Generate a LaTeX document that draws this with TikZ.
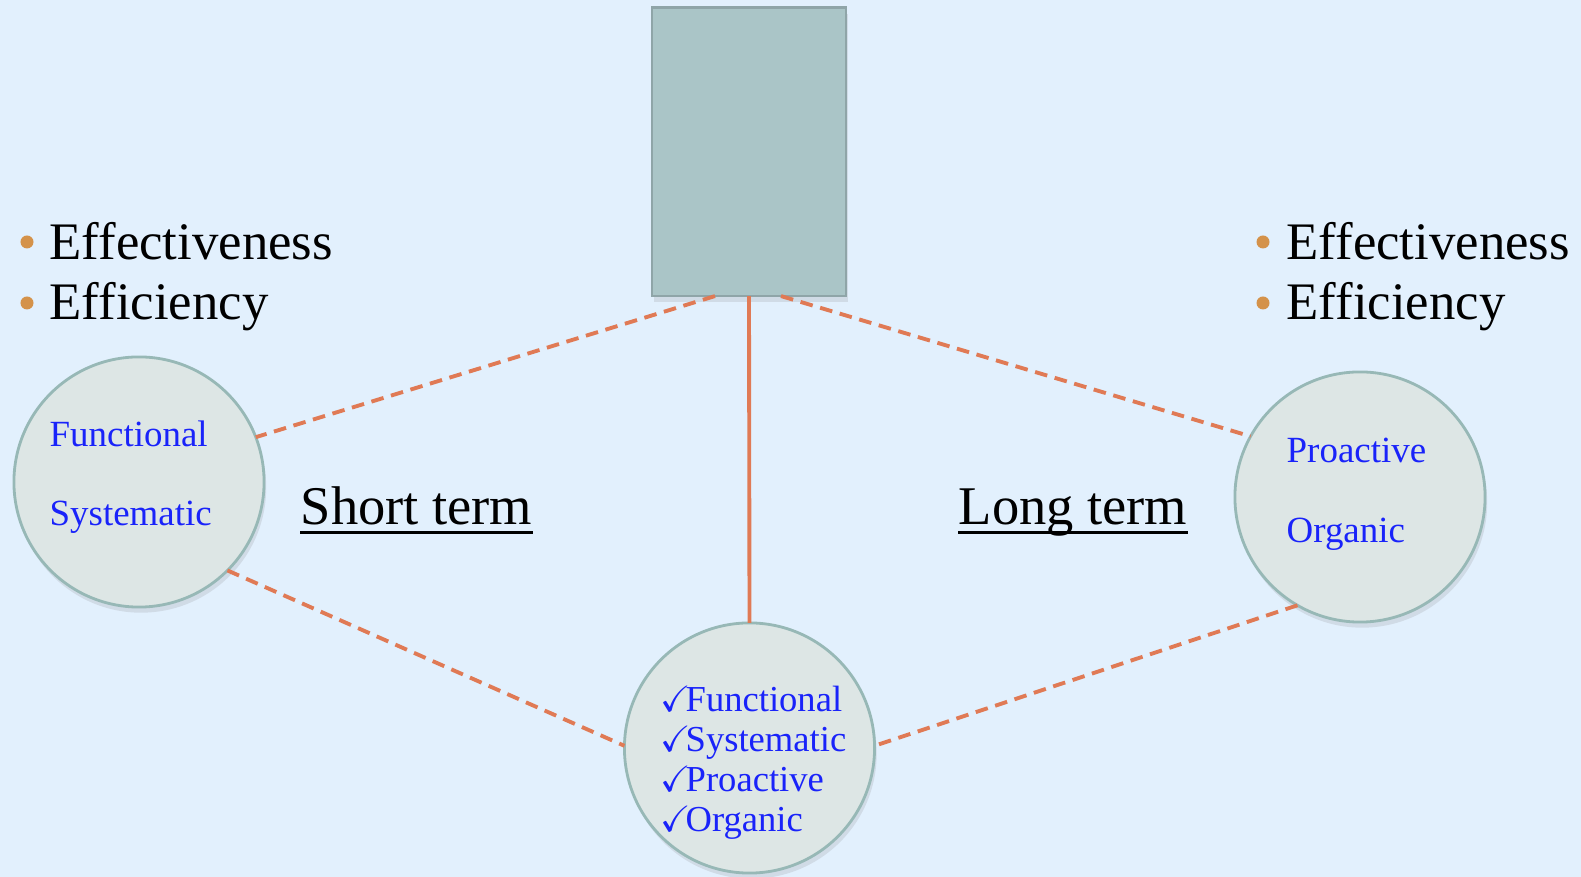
\documentclass[tikz,border=0pt]{standalone}
\usepackage{amssymb}
\usepackage{fontspec}
\setmainfont{Liberation Serif}
\usetikzlibrary{shadows,positioning}
\definecolor{bgblue}{RGB}{226,240,253}
\definecolor{boxfill}{RGB}{170,197,199}
\definecolor{boxedge}{RGB}{143,165,168}
\definecolor{circfill}{RGB}{221,230,229}
\definecolor{circedge}{RGB}{151,184,182}
\definecolor{linkred}{RGB}{224,122,85}
\definecolor{dotorange}{RGB}{212,146,74}
\definecolor{wordblue}{RGB}{25,35,250}
\tikzset{
  bubble/.style={circle, draw=circedge, fill=circfill, line width=0.8pt, minimum size=2.5cm, inner sep=0pt, outer sep=0pt,
    drop shadow={opacity=0.18, shadow xshift=0.6pt, shadow yshift=-1.6pt}},
  link/.style={draw=linkred, line width=1.1pt},
  dashlink/.style={link, dash pattern=on 3.6pt off 2.2pt},
  bigword/.style={anchor=base west, inner sep=0pt, font=\fontsize{15}{18}\selectfont},
  termword/.style={anchor=base west, inner sep=0pt, font=\fontsize{15.5}{18}\selectfont},
  smallword/.style={anchor=base west, inner sep=0pt, text=wordblue, font=\fontsize{10.5}{12}\selectfont},
  tickword/.style={smallword, font=\fontsize{10.4}{12}\selectfont}
}
\begin{document}
\begin{tikzpicture}[x=0.01cm, y=-0.01cm]
\fill[bgblue] (0,0) rectangle (1581,877);
\useasboundingbox (0,0) rectangle (1581,877);
\node[draw=boxedge, fill=boxfill, line width=0.8pt, minimum width=1.94cm, minimum height=2.88cm, inner sep=0pt, outer sep=0pt,
  drop shadow={opacity=0.18, shadow xshift=0.6pt, shadow yshift=-1.6pt}] (box) at (749,152) {};
\node[bubble] (lc) at (139,482) {};
\node[bubble] (rc) at (1360,497) {};
\node[bubble] (bc) at (749.5,748) {};
\draw[link] (box.south) -- (bc.north);
\draw[dashlink] ([xshift=-0.34cm]box.south) -- (lc.21);
\draw[dashlink] ([xshift=0.32cm]box.south) -- (rc.151);
\draw[dashlink] (lc.-45) -- (bc.179);
\draw[dashlink] (rc.240) -- (bc.1);
\foreach \xb/\xt in {27/49, 1263/1286} {
  \fill[dotorange] (\xb,242) circle (0.065cm);
  \fill[dotorange] (\xb,303) circle (0.065cm);
  \node[bigword] (eff\xb) at (\xt,260) {Effectiveness};
  \node[bigword] (effi\xb) at (\xt,320) {Efficiency};
}
\node[termword] (short) at (300,525) {Short term};
\node[termword] (long) at (958,525) {Long term};
\draw[line width=1pt] ([yshift=-2.2pt]short.base west) -- ([yshift=-2.2pt]short.base east);
\draw[line width=1pt] ([yshift=-2.2pt]long.base west) -- ([yshift=-2.2pt]long.base east);
\node[smallword] (lfun) at (49,447) {Functional};
\node[smallword] (lsys) at (49,526) {Systematic};
\node[smallword] (rpro) at (1286,463) {Proactive};
\node[smallword] (rorg) at (1286,543) {Organic};
\foreach \w [count=\i] in {Functional,Systematic,Proactive,Organic}
  \node[tickword] (b\i) at (660,{712+40*(\i-1)}) {\makebox[0.25cm][l]{$\checkmark$}\w};
\end{tikzpicture}
\end{document}
